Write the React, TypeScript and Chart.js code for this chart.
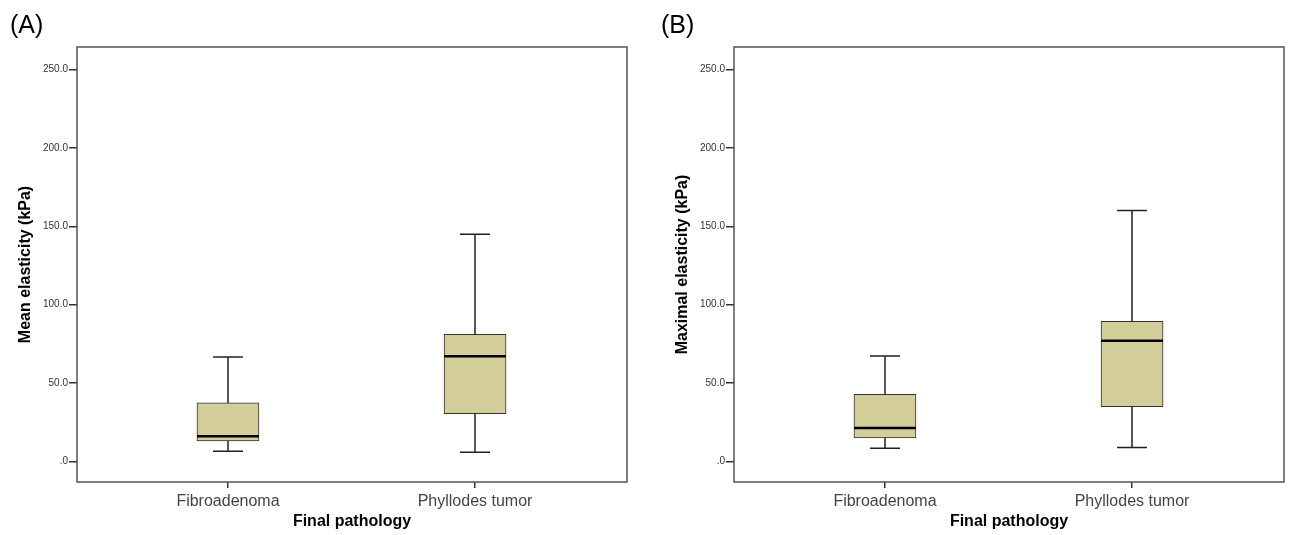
import React, { useEffect, useRef } from 'react';
import { Chart, registerables } from 'chart.js';

Chart.register(...registerables);

const FONT = "'Liberation Sans', Arial, sans-serif";

const categories = ['Fibroadenoma', 'Phyllodes tumor'];
const yTickValues = [0, 50, 100, 150, 200, 250];

// Panel A: Mean elasticity (kPa)
const meanLow = [6.4, 5.8];
const meanQ1 = [13.0, 30.4];
const meanMedian = [16.0, 67.1];
const meanQ3 = [37.3, 81.0];
const meanHigh = [66.6, 144.9];

// Panel B: Maximal elasticity (kPa)
const maxLow = [8.3, 8.9];
const maxQ1 = [14.9, 34.9];
const maxMedian = [21.3, 76.9];
const maxQ3 = [42.8, 89.3];
const maxHigh = [67.3, 160.2];

type BoxData = {
  low: number[];
  q1: number[];
  median: number[];
  q3: number[];
  high: number[];
};

function makeChart(canvas: HTMLCanvasElement, d: BoxData, yTitle: string, padRight: number) {
  const boxExtras = {
    id: 'boxExtras',
    afterDatasetsDraw(chart: any) {
      const { ctx } = chart;
      const xs = chart.scales.x;
      const ys = chart.scales.y;
      const meta = chart.getDatasetMeta(0);
      ctx.save();
      categories.forEach((_, i) => {
        const cx = Math.round(xs.getPixelForValue(i));
        const bw = meta.data[i] ? meta.data[i].width : 62;
        const yLow = ys.getPixelForValue(d.low[i]);
        const yQ1 = ys.getPixelForValue(d.q1[i]);
        const yQ3 = ys.getPixelForValue(d.q3[i]);
        const yHigh = ys.getPixelForValue(d.high[i]);
        const yMed = ys.getPixelForValue(d.median[i]);
        // whiskers
        ctx.strokeStyle = '#222';
        ctx.lineWidth = 1.5;
        ctx.beginPath();
        ctx.moveTo(cx, yQ1);
        ctx.lineTo(cx, yLow);
        ctx.moveTo(cx, yQ3);
        ctx.lineTo(cx, yHigh);
        // caps
        ctx.moveTo(cx - 15, yLow);
        ctx.lineTo(cx + 15, yLow);
        ctx.moveTo(cx - 15, yHigh);
        ctx.lineTo(cx + 15, yHigh);
        ctx.stroke();
        // median
        ctx.strokeStyle = '#000';
        ctx.lineWidth = 2.5;
        ctx.beginPath();
        ctx.moveTo(cx - bw / 2, yMed);
        ctx.lineTo(cx + bw / 2, yMed);
        ctx.stroke();
      });
      ctx.restore();
    },
    afterDraw(chart: any) {
      const { ctx, chartArea } = chart;
      ctx.save();
      ctx.strokeStyle = '#555';
      ctx.lineWidth = 1.5;
      ctx.strokeRect(chartArea.left, chartArea.top, chartArea.right - chartArea.left, chartArea.bottom - chartArea.top);
      ctx.restore();
    },
  };

  return new Chart(canvas, {
    type: 'bar',
    data: {
      datasets: [
        {
          data: categories.map((_, i) => ({ x: i, y: [d.q1[i], d.q3[i]] })) as any,
          backgroundColor: '#D3CE99',
          borderColor: '#333',
          borderWidth: 1,
          borderSkipped: false,
          barThickness: 62,
        },
      ],
    },
    options: {
      responsive: false,
      animation: false,
      layout: { padding: { left: 0, top: 47, right: padRight, bottom: 0 } },
      plugins: {
        legend: { display: false },
        tooltip: { enabled: false },
      },
      scales: {
        x: {
          type: 'linear',
          min: -0.611,
          max: 1.615,
          offset: false,
          afterBuildTicks: (s: any) => {
            s.ticks = categories.map((_, i) => ({ value: i }));
          },
          afterFit: (s: any) => {
            s.height = 53;
          },
          grid: {
            display: true,
            offset: false,
            drawOnChartArea: false,
            drawTicks: true,
            tickLength: 6,
            color: '#333',
            lineWidth: 1.5,
          },
          border: { display: false },
          ticks: {
            callback: (v: any) => categories[v] ?? '',
            font: { family: FONT, size: 16 },
            color: '#444',
            padding: 4,
            maxRotation: 0,
            autoSkip: false,
          },
          title: {
            display: true,
            text: 'Final pathology',
            font: { family: FONT, size: 16, weight: 'bold' },
            color: '#000',
            padding: { top: 0, bottom: 4 },
          },
        },
        y: {
          type: 'linear',
          min: -13.2,
          max: 264.5,
          afterBuildTicks: (s: any) => {
            s.ticks = yTickValues.map((v) => ({ value: v }));
          },
          afterFit: (s: any) => {
            s.width = 77;
          },
          grid: { display: true, drawOnChartArea: false, drawTicks: true, tickLength: 8, color: '#333', lineWidth: 1.5 },
          border: { display: false },
          ticks: {
            callback: (v: any) => (Number(v) === 0 ? '.0' : Number(v).toFixed(1)),
            font: { family: FONT, size: 10 },
            color: '#333',
            padding: 1,
          },
          title: {
            display: true,
            text: yTitle,
            font: { family: FONT, size: 16, weight: 'bold' },
            color: '#000',
            padding: { top: 16, bottom: 0 },
          },
        },
      },
    } as any,
    plugins: [boxExtras],
  });
}

function Panel(props: { left: number; width: number; padRight: number; data: BoxData; yTitle: string }) {
  const ref = useRef<HTMLCanvasElement>(null);
  useEffect(() => {
    if (!ref.current) return;
    const chart = makeChart(ref.current, props.data, props.yTitle, props.padRight);
    return () => chart.destroy();
  }, []);
  return (
    <canvas
      ref={ref}
      width={props.width}
      height={535}
      style={{ position: 'absolute', left: props.left, top: 0, width: props.width, height: 535, display: 'block' }}
    />
  );
}

const labelStyle: React.CSSProperties = {
  position: 'absolute',
  top: 12,
  fontFamily: FONT,
  fontSize: 25,
  lineHeight: '25px',
  color: '#000',
};

export default function App() {
  return (
    <div style={{ position: 'absolute', left: 0, top: 0, width: 1290, height: 535, background: '#fff', overflow: 'hidden' }}>
      <Panel
        left={0}
        width={645}
        padRight={18}
        data={{ low: meanLow, q1: meanQ1, median: meanMedian, q3: meanQ3, high: meanHigh }}
        yTitle="Mean elasticity (kPa)"
      />
      <Panel
        left={657}
        width={633}
        padRight={6}
        data={{ low: maxLow, q1: maxQ1, median: maxMedian, q3: maxQ3, high: maxHigh }}
        yTitle="Maximal elasticity (kPa)"
      />
      <div style={{ ...labelStyle, left: 10 }}>(A)</div>
      <div style={{ ...labelStyle, left: 661 }}>(B)</div>
    </div>
  );
}
